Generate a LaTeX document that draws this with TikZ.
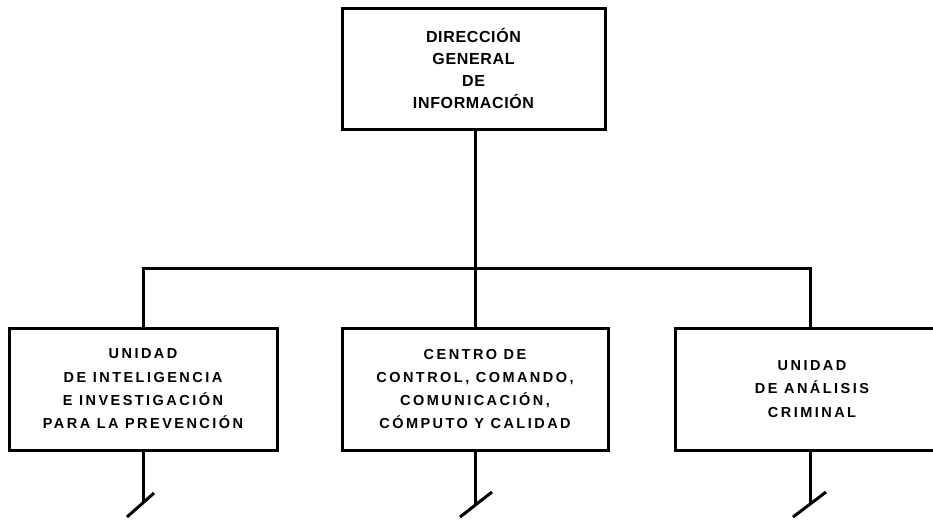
\documentclass[tikz,border=0pt]{standalone}
\usepackage{fontspec}
\newfontfamily\lblfont{Liberation Sans}[LetterSpace=17]
\newfontfamily\topfont{Liberation Sans}[LetterSpace=4]
\begin{document}
\begin{tikzpicture}[x=1pt,y=-1pt,
  orgbox/.style={draw=black,line width=3pt,fill=white,align=center,inner sep=0pt,
    font=\lblfont\bfseries\fontsize{14.5}{23.3}\selectfont},
  conn/.style={draw=black,line width=3pt}]
\useasboundingbox (0,0) rectangle (933,520);
\node[orgbox,minimum width=263,minimum height=121,font=\topfont\bfseries\fontsize{16}{21.7}\selectfont] (top) at (473.5,68.5)
  {DIRECCIÓN\\GENERAL\\DE\\INFORMACIÓN};
\node[orgbox,minimum width=268,minimum height=122] (left) at (143,389)
  {UNIDAD\\DE INTELIGENCIA\\E INVESTIGACIÓN\\PARA LA PREVENCIÓN};
\node[orgbox,minimum width=266,minimum height=122] (mid) at (475,389)
  {CENTRO DE\\CONTROL, COMANDO,\\COMUNICACIÓN,\\CÓMPUTO Y CALIDAD};
\node[orgbox,minimum width=274,minimum height=122] (right) at (812,389)
  {UNIDAD\\DE ANÁLISIS\\CRIMINAL};
\coordinate (busL) at (143,268);
\coordinate (busR) at (810,268);
\coordinate (busM) at (475,268);
\draw[conn] (top.south -| busM) -- (busM);
\draw[conn] (left.north -| busL) |- (busR) -- (right.north -| busR);
\draw[conn] (busM) -- (mid.north -| busM);
% stubs with slashes
\coordinate (lA) at (127,517); \coordinate (lB) at (154,493); \coordinate (lE) at (143,503);
\coordinate (mA) at (460,517); \coordinate (mB) at (492,492); \coordinate (mE) at (475,505);
\coordinate (rA) at (793,517); \coordinate (rB) at (826,492); \coordinate (rE) at (810,504);
\draw[conn] (left.south -| lE) -- (lE);
\draw[conn] (lA) -- (lB);
\draw[conn] (mid.south -| mE) -- (mE);
\draw[conn] (mA) -- (mB);
\draw[conn] (right.south -| rE) -- (rE);
\draw[conn] (rA) -- (rB);
\end{tikzpicture}
\end{document}
